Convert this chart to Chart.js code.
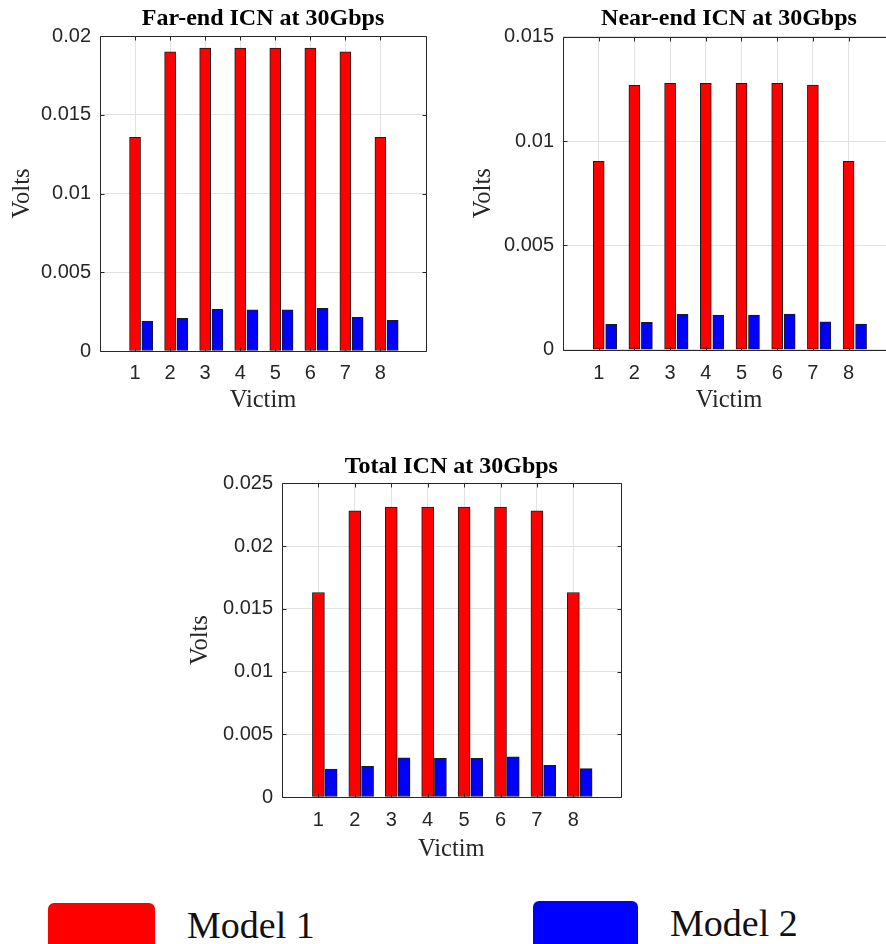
<!DOCTYPE html>
<html>
<head>
<meta charset="utf-8">
<title>ICN at 30Gbps</title>
<script src="https://cdn.jsdelivr.net/npm/chart.js@4.4.1/dist/chart.umd.min.js"></script>
<style>
    html, body { margin: 0; padding: 0; background: #fff; }
    body { width: 886px; height: 944px; overflow: hidden; position: relative; }
    .panel { position: absolute; }
    .legend-box { position: absolute; height: 50px; border-radius: 6px; }
    .legend-text {
        position: absolute;
        font: 38px 'Liberation Serif', 'Times New Roman', serif;
        line-height: 1;
        color: #111;
        white-space: nowrap;
    }
</style>
</head>
<body>
<div class="panel" style="left:0;top:0"><canvas id="far-chart" width="440" height="420"></canvas></div>
<div class="panel" style="left:440px;top:0"><canvas id="near-chart" width="470" height="420"></canvas></div>
<div class="panel" style="left:180px;top:450px"><canvas id="total-chart" width="460" height="420"></canvas></div>
<div id="legend"></div>

<script>
// data
const victims = [1, 2, 3, 4, 5, 6, 7, 8];
const seriesNames = ['Model 1', 'Model 2'];
const seriesColors = ['#ff0000', '#0000ff'];

const farModel1 = [0.01357, 0.0190, 0.01924, 0.01924, 0.01924, 0.01924, 0.0190, 0.01357];
const farModel2 = [0.00190, 0.00207, 0.00265, 0.00262, 0.00262, 0.00271, 0.00214, 0.00195];
const nearModel1 = [0.00903, 0.01267, 0.01277, 0.01277, 0.01277, 0.01277, 0.01268, 0.00903];
const nearModel2 = [0.00122, 0.00131, 0.00170, 0.00166, 0.00166, 0.00171, 0.00134, 0.00123];
const totalModel1 = [0.0163, 0.0228, 0.0231, 0.0231, 0.0231, 0.0231, 0.0228, 0.0163];
const totalModel2 = [0.00223, 0.00245, 0.00313, 0.00308, 0.00308, 0.00321, 0.00253, 0.00226];

const farTicks = ['0', '0.005', '0.01', '0.015', '0.02'];
const nearTicks = ['0', '0.005', '0.01', '0.015'];
const totalTicks = ['0', '0.005', '0.01', '0.015', '0.02', '0.025'];

const SERIF = "'Liberation Serif', 'Times New Roman', serif";
const SANS = "'Liberation Sans', Arial, sans-serif";
const AXIS_COLOR = '#262626';
const GRID_COLOR = '#e2e2e2';
const MODEL2_SHIFT = 0.35; // second bar sits right of the victim tick

// MATLAB style box with inward tick marks on every side
const boxPlugin = {
    id: 'matlabBox',
    afterDatasetsDraw(chart) {
        const { ctx, chartArea: a, scales: { x, y } } = chart;
        const left = Math.round(a.left) + 0.5;
        const right = Math.round(a.right) + 0.5;
        const top = Math.round(a.top) + 0.5;
        const bottom = Math.round(a.bottom) + 0.5;
        const len = 4;

        ctx.save();
        ctx.strokeStyle = AXIS_COLOR;
        ctx.lineWidth = 1;
        ctx.beginPath();
        ctx.rect(left, top, right - left, bottom - top);

        x.ticks.forEach(t => {
            const px = Math.round(x.getPixelForValue(t.value)) + 0.5;
            ctx.moveTo(px, bottom);
            ctx.lineTo(px, bottom - len);
            ctx.moveTo(px, top);
            ctx.lineTo(px, top + len);
        });
        y.ticks.forEach(t => {
            const py = Math.round(y.getPixelForValue(t.value)) + 0.5;
            ctx.moveTo(left, py);
            ctx.lineTo(left + len, py);
            ctx.moveTo(right, py);
            ctx.lineTo(right - len, py);
        });
        ctx.stroke();
        ctx.restore();
    }
};

function makeChart(id, p) {
    const ctx = document.getElementById(id);
    if (!ctx) return null;

    const model1 = victims.map((v, i) => ({ x: v, y: p.model1[i] }));
    const model2 = victims.map((v, i) => ({ x: v + MODEL2_SHIFT, y: p.model2[i] }));

    return new Chart(ctx, {
        type: 'bar',
        data: {
            datasets: [
                {
                    label: seriesNames[0],
                    data: model1,
                    backgroundColor: seriesColors[0],
                    borderColor: '#1a1a1a',
                    borderWidth: 1,
                    borderSkipped: false,
                    grouped: false,
                    barThickness: p.barThickness
                },
                {
                    label: seriesNames[1],
                    data: model2,
                    backgroundColor: seriesColors[1],
                    borderColor: '#1a1a1a',
                    borderWidth: 1,
                    borderSkipped: false,
                    grouped: false,
                    barThickness: p.barThickness
                }
            ]
        },
        options: {
            responsive: false,
            animation: false,
            devicePixelRatio: 1,
            layout: { padding: { left: 0, right: p.padRight, top: 0, bottom: 0 } },
            plugins: {
                legend: { display: false },
                tooltip: { enabled: false },
                title: {
                    display: true,
                    fullSize: false,   // centre it over the plot, like MATLAB
                    text: p.title,
                    color: '#000',
                    font: { family: SERIF, size: 24, weight: 'bold', lineHeight: 1.2 },
                    padding: { top: p.titleTop, bottom: p.titleBottom }
                }
            },
            scales: {
                x: {
                    type: 'linear',
                    min: 0,
                    max: 9.3,
                    offset: false,
                    afterBuildTicks: s => { s.ticks = victims.map(v => ({ value: v })); },
                    afterFit: s => { s.height = p.xAxisHeight; },
                    ticks: {
                        callback: v => String(v),
                        autoSkip: false,
                        maxRotation: 0,
                        color: AXIS_COLOR,
                        padding: p.xTickPad,
                        font: { family: SANS, size: 20 }
                    },
                    grid: { color: GRID_COLOR, drawTicks: false, offset: false },
                    border: { display: false },
                    title: {
                        display: true,
                        text: 'Victim',
                        color: AXIS_COLOR,
                        font: { family: SERIF, size: 24.5, lineHeight: 1.2 },
                        padding: { top: 0, bottom: p.xTitleBottom }
                    }
                },
                y: {
                    min: 0,
                    max: parseFloat(p.yTicks[p.yTicks.length - 1]),
                    afterFit: s => { s.width = p.yAxisWidth; },
                    ticks: {
                        stepSize: 0.005,
                        callback: (v, i) => p.yTicks[i],
                        color: AXIS_COLOR,
                        padding: 9,
                        font: { family: SANS, size: 20 }
                    },
                    grid: { color: GRID_COLOR, drawTicks: false },
                    border: { display: false },
                    title: {
                        display: true,
                        text: 'Volts',
                        color: AXIS_COLOR,
                        font: { family: SERIF, size: 24.5, lineHeight: 1.2 },
                        padding: { top: p.yTitleLeft, bottom: 0 }
                    }
                }
            }
        },
        plugins: [boxPlugin]
    });
}

const charts = [
    makeChart('far-chart', {
        title: 'Far-end ICN at 30Gbps',
        model1: farModel1, model2: farModel2, yTicks: farTicks,
        barThickness: 11, padRight: 14, yAxisWidth: 100, xAxisHeight: 69,
        titleTop: 4, titleBottom: 3.2, xTickPad: 10, xTitleBottom: 4.3, yTitleLeft: 7.8
    }),
    makeChart('near-chart', {
        title: 'Near-end ICN at 30Gbps',
        model1: nearModel1, model2: nearModel2, yTicks: nearTicks,
        barThickness: 11, padRight: 15, yAxisWidth: 123, xAxisHeight: 70.3,
        titleTop: 4, titleBottom: 3.9, xTickPad: 11.5, xTitleBottom: 4.3, yTitleLeft: 29.3
    }),
    makeChart('total-chart', {
        title: 'Total ICN at 30Gbps',
        model1: totalModel1, model2: totalModel2, yTicks: totalTicks,
        barThickness: 12, padRight: 19.3, yAxisWidth: 102, xAxisHeight: 73,
        titleTop: 2, titleBottom: 2.5, xTickPad: 11.2, xTitleBottom: 5.8, yTitleLeft: 6.3
    })
];

// shared legend under the panels, built from the series
const legendSpots = [
    { box: [48, 903, 107], text: [187, 906] },
    { box: [533, 901, 105], text: [670, 904] }
];
const legendEl = document.getElementById('legend');
seriesNames.forEach((name, i) => {
    const spot = legendSpots[i];
    const box = document.createElement('div');
    box.className = 'legend-box';
    box.style.left = spot.box[0] + 'px';
    box.style.top = spot.box[1] + 'px';
    box.style.width = spot.box[2] + 'px';
    box.style.background = seriesColors[i];
    legendEl.appendChild(box);

    const label = document.createElement('div');
    label.className = 'legend-text';
    label.style.left = spot.text[0] + 'px';
    label.style.top = spot.text[1] + 'px';
    label.textContent = name;
    legendEl.appendChild(label);
});
</script>
</body>
</html>
